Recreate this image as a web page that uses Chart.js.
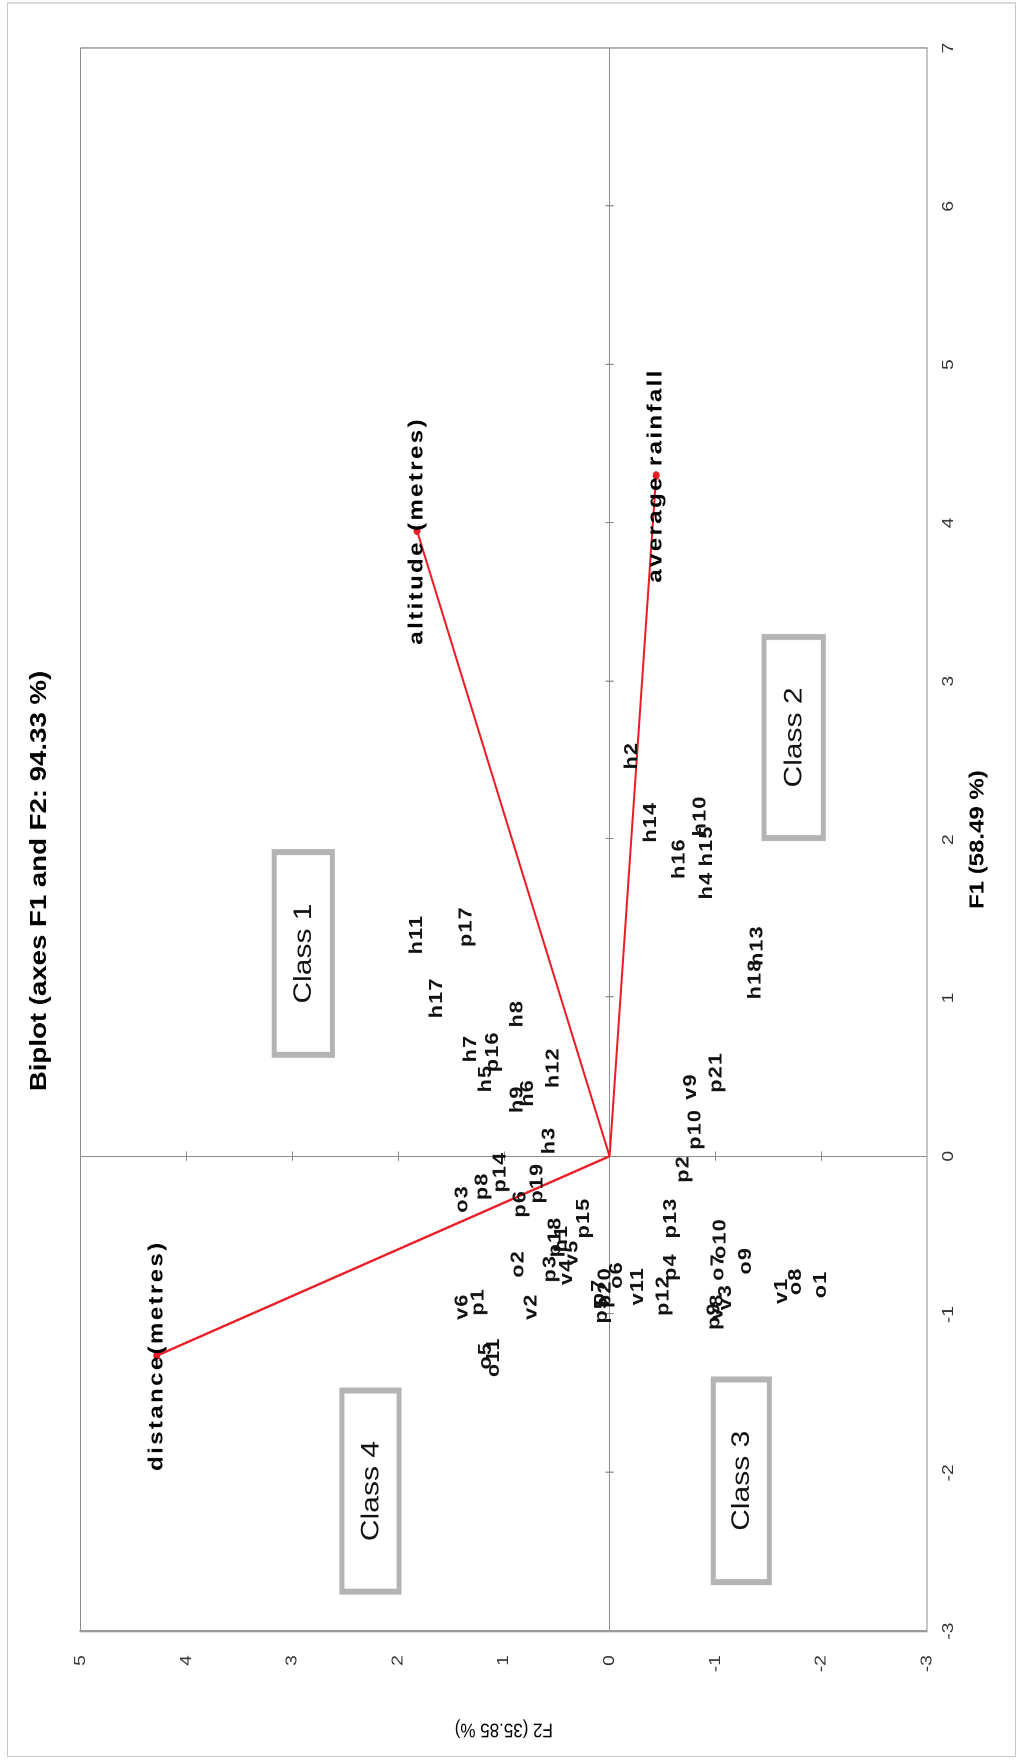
<!DOCTYPE html>
<html>
<head>
<meta charset="utf-8">
<script src="https://cdn.jsdelivr.net/npm/chart.js@4.4.1/dist/chart.umd.min.js"></script>
<style>
  html, body { margin: 0; padding: 0; background: #fff; }
  body { width: 1021px; height: 1762px; overflow: hidden; position: relative; }
  /* the chart is laid out landscape, then turned a quarter turn to stand upright */
  #frame {
    position: absolute; left: 0; top: 0;
    width: 1468px; height: 1021px;
    transform-origin: 0 0;
    transform: translate(0px, 1762px) rotate(-90deg) scale(1.2003, 1);
  }
  canvas { display: block; }
</style>
</head>
<body>
<div id="frame"><canvas id="biplot"></canvas></div>
<script>
// Observations (sites): factor scores on F1 and F2
const obsNames = ['h1','h2','h3','h4','h5','h6','h7','h8','h9','h10','h11','h12','h13','h14','h15','h16','h17','h18',
  'p1','p2','p3','p4','p5','p6','p7','p8','p9','p10','p12','p13','p14','p15','p16','p17','p18','p19','p20','p21',
  'o1','o2','o3','o5','o6','o7','o8','o9','o10','o11',
  'v1','v2','v3','v4','v5','v6','v8','v9','v11'];
const obsF1 = [-0.52, 2.53, 0.10, 1.71, 0.49, 0.40, 0.68, 0.90, 0.36, 2.15, 1.40, 0.56, 1.33, 2.11, 1.96, 1.88, 1.00, 1.12,
  -0.92, -0.08, -0.71, -0.70, -0.97, -0.30, -0.86, -0.19, -1.01, 0.17, -0.88, -0.39, -0.10, -0.39, 0.66, 1.45, -0.51, -0.17, -0.83, 0.53,
  -0.81, -0.68, -0.27, -1.26, -0.75, -0.70, -0.79, -0.66, -0.52, -1.27,
  -0.85, -0.95, -0.89, -0.73, -0.61, -0.95, -0.95, 0.44, -0.82];
const obsF2 = [0.45, -0.21, 0.57, -0.92, 1.17, 0.77, 1.31, 0.87, 0.87, -0.86, 1.82, 0.53, -1.40, -0.39, -0.92, -0.66, 1.63, -1.38,
  1.24, -0.70, 0.56, -0.58, 0.07, 0.84, 0.10, 1.20, -0.99, -0.81, -0.51, -0.58, 1.03, 0.24, 1.10, 1.35, 0.51, 0.68, 0.04, -1.01,
  -2.00, 0.86, 1.39, 1.17, -0.07, -1.03, -1.76, -1.29, -1.05, 1.09,
  -1.63, 0.74, -1.10, 0.40, 0.35, 1.39, -1.02, -0.77, -0.27];

// Variables: loadings drawn as vectors from the origin
const varNames = ['distance(metres)', 'altitude (metres)', 'average rainfall'];
const varF1 = [-1.26, 3.95, 4.30];
const varF2 = [4.28, 1.82, -0.44];

// Axis ranges and tick values
const f1Ticks = [-3, -2, -1, 0, 1, 2, 3, 4, 5, 6, 7];
const f2Ticks = [-3, -2, -1, 0, 1, 2, 3, 4, 5];

// Class groupings (framed captions), in factor units
const classNames = ['Class 1', 'Class 2', 'Class 3', 'Class 4'];
const classF1From = [0.64, 2.01, -2.69, -2.75];
const classF1To   = [1.92, 3.28, -1.41, -1.48];
const classF2From = [2.62, -2.02, -1.51, 1.99];
const classF2To   = [3.17, -1.46, -0.98, 2.53];

const FONT = "'Liberation Sans', Arial, Helvetica, sans-serif";
const AXIS_GREY = '#8c8c8c';
const VECTOR_RED = '#ec1c24';

const outerFrame = {
  id: 'outerFrame',
  beforeDraw(chart) {
    const ctx = chart.ctx;
    ctx.save();
    ctx.fillStyle = '#ffffff';
    ctx.fillRect(0, 0, chart.width, chart.height);
    ctx.strokeStyle = '#c8c8c8';
    ctx.lineWidth = 1;
    ctx.strokeRect(4.5, 7.5, chart.width - 7, chart.height - 13);
    ctx.restore();
  }
};

// small cross ticks along the two zero lines
const zeroLineTicks = {
  id: 'zeroLineTicks',
  beforeDatasetsDraw(chart) {
    const {ctx, scales: {x, y}} = chart;
    const x0 = x.getPixelForValue(0), y0 = y.getPixelForValue(0);
    ctx.save();
    ctx.strokeStyle = AXIS_GREY;
    ctx.lineWidth = 1;
    ctx.beginPath();
    f1Ticks.forEach(v => {
      if (v === 0 || v === f1Ticks[0] || v === f1Ticks[f1Ticks.length - 1]) return;
      const px = Math.round(x.getPixelForValue(v)) + 0.5;
      ctx.moveTo(px, y0 - 4); ctx.lineTo(px, y0 + 4);
    });
    f2Ticks.forEach(v => {
      if (v === 0 || v === f2Ticks[0] || v === f2Ticks[f2Ticks.length - 1]) return;
      const py = Math.round(y.getPixelForValue(v)) + 0.5;
      ctx.moveTo(x0 - 4, py); ctx.lineTo(x0 + 4, py);
    });
    ctx.stroke();
    ctx.restore();
  }
};

const classFrames = {
  id: 'classFrames',
  afterDatasetsDraw(chart) {
    const {ctx, scales: {x, y}} = chart;
    ctx.save();
    classNames.forEach((name, i) => {
      const xa = x.getPixelForValue(classF1From[i]), xb = x.getPixelForValue(classF1To[i]);
      const ya = y.getPixelForValue(classF2To[i]), yb = y.getPixelForValue(classF2From[i]);
      ctx.strokeStyle = '#b4b4b4';
      ctx.lineWidth = 5;
      ctx.strokeRect(xa, ya, xb - xa, yb - ya);
      ctx.fillStyle = '#111';
      ctx.font = `25px ${FONT}`;
      ctx.textAlign = 'center';
      ctx.textBaseline = 'middle';
      ctx.fillText(name, (xa + xb) / 2, (ya + yb) / 2 + 1);
    });
    ctx.restore();
  }
};

const pointNames = {
  id: 'pointNames',
  afterDatasetsDraw(chart) {
    const {ctx, scales: {x, y}} = chart;
    const spaced = 'letterSpacing' in ctx;
    ctx.save();
    ctx.fillStyle = '#111';
    ctx.textAlign = 'center';
    ctx.textBaseline = 'middle';
    ctx.font = `bold 18px ${FONT}`;
    if (spaced) ctx.letterSpacing = '1px';
    obsNames.forEach((n, i) => {
      ctx.fillText(n, x.getPixelForValue(obsF1[i]), y.getPixelForValue(obsF2[i]));
    });
    ctx.font = `bold 20px ${FONT}`;
    if (spaced) ctx.letterSpacing = '2px';
    ctx.fillStyle = '#000';
    varNames.forEach((n, i) => {
      ctx.fillText(n, x.getPixelForValue(varF1[i]), y.getPixelForValue(varF2[i]));
    });
    ctx.restore();
  }
};

const datasets = [{
  label: 'Observations',
  data: obsNames.map((n, i) => ({x: obsF1[i], y: obsF2[i]})),
  pointRadius: 0,
  showLine: false
}];
varNames.forEach((n, i) => {
  datasets.push({
    label: n,
    data: [{x: 0, y: 0}, {x: varF1[i], y: varF2[i]}],
    showLine: true,
    borderColor: VECTOR_RED,
    borderWidth: 2,
    pointRadius: [0, 3.5],
    pointBackgroundColor: VECTOR_RED,
    pointBorderWidth: 0
  });
});

const edgeOrZero = (vals) => (c) => (c.tick && vals.includes(c.tick.value)) ? AXIS_GREY : 'rgba(0,0,0,0)';

new Chart(document.getElementById('biplot'), {
  type: 'scatter',
  data: { datasets },
  options: {
    responsive: true,
    maintainAspectRatio: false,
    devicePixelRatio: 2,
    animation: false,
    events: [],
    layout: { padding: 0 },
    plugins: {
      legend: { display: false },
      tooltip: { enabled: false },
      title: {
        display: true,
        text: 'Biplot (axes F1 and F2: 94.33 %)',
        color: '#000',
        font: { family: FONT, size: 23, weight: 'bold' },
        padding: { top: 26, bottom: 27 }
      }
    },
    scales: {
      x: {
        type: 'linear',
        position: 'bottom',
        min: f1Ticks[0],
        max: f1Ticks[f1Ticks.length - 1],
        afterBuildTicks: s => { s.ticks = f1Ticks.map(v => ({value: v})); },
        afterFit: s => { s.height = 94; },
        ticks: { color: '#333', font: { family: FONT, size: 16 }, padding: 12, maxRotation: 0 },
        grid: { drawTicks: false, color: edgeOrZero([0, 7]), lineWidth: 1 },
        border: { display: true, color: AXIS_GREY, width: 1 },
        title: {
          display: true,
          text: 'F1 (58.49 %)',
          color: '#000',
          font: { family: FONT, size: 20, weight: 'bold' },
          padding: { top: 0, bottom: 31 }
        }
      },
      y: {
        type: 'linear',
        position: 'left',
        min: f2Ticks[0],
        max: f2Ticks[f2Ticks.length - 1],
        afterBuildTicks: s => { s.ticks = f2Ticks.map(v => ({value: v})); },
        afterFit: s => { s.width = 109; },
        ticks: { color: '#333', font: { family: FONT, size: 16 }, padding: 20 },
        grid: { drawTicks: false, color: edgeOrZero([0, 5]), lineWidth: 1 },
        border: { display: true, color: '#9a9a9a', width: 2 },
        title: {
          display: true,
          text: 'F2 (35.85 %)',
          color: '#000',
          font: { family: FONT, size: 17 },
          padding: { top: 17, bottom: 0 }
        }
      },
      // empty margin column on the right-hand side of the plot
      margin: {
        type: 'linear',
        position: 'right',
        display: true,
        min: f2Ticks[0],
        max: f2Ticks[f2Ticks.length - 1],
        afterFit: s => { s.width = 40; },
        ticks: { display: false },
        grid: { display: false, drawTicks: false },
        border: { display: false }
      }
    }
  },
  plugins: [outerFrame, zeroLineTicks, classFrames, pointNames]
});
</script>
</body>
</html>
